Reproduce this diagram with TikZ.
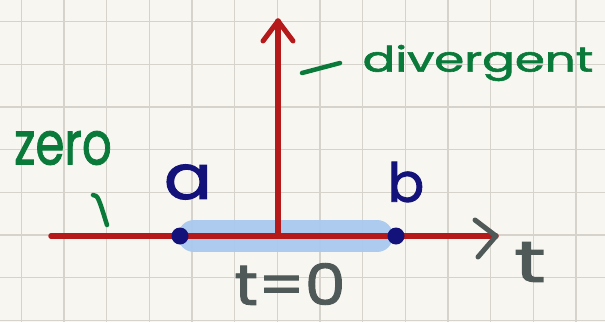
\documentclass[tikz,border=0pt]{standalone}
\usepackage{fontspec}
\setmainfont{Poppins}
\newfontfamily\handfont{Poppins}[FakeBold=1.6]
\usetikzlibrary{calc}
\definecolor{paper}{HTML}{F8F6F1}
\definecolor{gridc}{HTML}{D6D2CC}
\definecolor{axisred}{HTML}{B5191A}
\definecolor{navy}{HTML}{12127A}
\definecolor{slate}{HTML}{4F5A58}
\definecolor{pen}{HTML}{0A7A3A}
\definecolor{hl}{HTML}{A9C9EF}
\tikzset{
  gridline/.style={gridc, line width=1.4pt},
  axis/.style={axisred, line width=5.5pt, line cap=round, line join=round},
  chev/.style={line width=5pt, line cap=round, line join=round},
  dotpt/.style={circle, fill=navy, inner sep=0pt, minimum size=17pt},
  hand/.style={inner sep=0pt, anchor=center},
}
\begin{document}
\begin{tikzpicture}[x=1pt,y=-1pt]
\useasboundingbox (0,0) rectangle (605,322);
\fill[paper] (0,0) rectangle (605,322);
\foreach \i in {0,...,13} \draw[gridline] ({21.3+42.67*\i},0) -- ({21.3+42.67*\i},322);
\foreach \j in {0,...,7} \draw[gridline] (0,{21.7+42.67*\j}) -- (605,{21.7+42.67*\j});
% coordinates
\coordinate (L) at (51,236);
\coordinate (T) at (496,236);
\coordinate (O) at (278,236);
\coordinate (Top) at (278,21);
\coordinate (hlA) at (194,236);
\coordinate (hlB) at (377,236);
% highlight bar
\draw[hl, opacity=0.95, line width=32pt, line cap=round] (hlA) -- (hlB);
% axes
\draw[axis] (L) -- (T);
\draw[axis] (O) -- (Top);
\draw[axis, chev] ($(Top)+(-15,20)$) -- (Top) -- ($(Top)+(15,20)$);
\draw[slate, chev] ($(T)+(-21,-16)$) -- (T) -- ($(T)+(-18,21)$);
% points
\node[dotpt] (adot) at (180,236) {};
\node[dotpt] (bdot) at (396,236) {};
% labels
\node[hand, navy, font=\handfont\fontsize{62}{62}\selectfont] (alab) at (188,182) {\scalebox{1.15}[1]{a}};
\node[hand, navy, font=\handfont\fontsize{54}{54}\selectfont] (blab) at (406,182) {b};
\node[hand, slate, font=\handfont\fontsize{58}{58}\selectfont] (tlab) at (530,262) {\scalebox{1.5}[1]{t}};
\node[hand, slate, font=\handfont\fontsize{54}{54}\selectfont] (t0lab) at (290,284) {\scalebox{1.2}[1.05]{t=0}};
\node[hand, pen, font=\handfont\fontsize{60}{60}\selectfont] (zero) at (63,148) {\scalebox{0.78}[1]{zero}};
\node[hand, pen, font=\handfont\fontsize{35}{35}\selectfont] (div) at (478,63) {\scalebox{1.38}[1]{divergent}};
% pen strokes
\coordinate (d1) at (302,73);
\coordinate (d2) at (340,63);
\draw[pen, chev, line width=4.5pt] (d1) -- (d2);
\coordinate (z1) at (93,195);
\coordinate (z2) at (107,225);
\draw[pen, chev, line width=4.5pt] (z1) .. controls (98,196) .. (z2);
\end{tikzpicture}
\end{document}
